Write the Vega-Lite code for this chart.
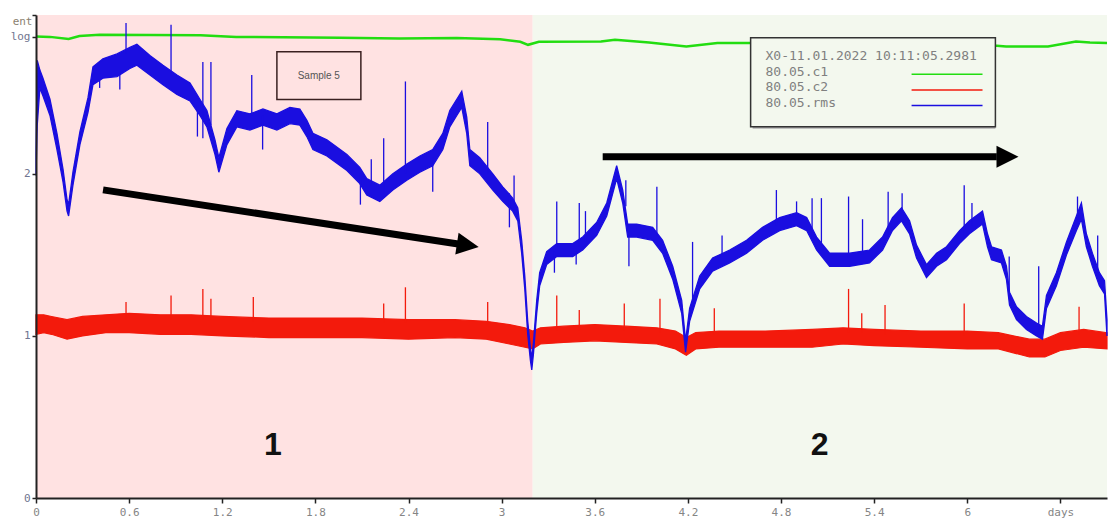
{
  "$schema": "https://vega.github.io/schema/vega-lite/v6.json",
  "width": 1071,
  "height": 483,
  "autosize": {"type": "none"},
  "padding": {"left": 36, "top": 15, "right": 2, "bottom": 30},
  "background": "#ffffff",
  "view": {"stroke": null},
  "datasets": {
    "phases": [
      {"phase": "1", "start": 0, "end": 3.2},
      {"phase": "2", "start": 3.2, "end": 6.9}
    ],
    "c1": [
      {"t": 0.0, "y": 2.847}, {"t": 0.09, "y": 2.845}, {"t": 0.21, "y": 2.832}, {"t": 0.28, "y": 2.85},
      {"t": 0.41, "y": 2.858}, {"t": 1.06, "y": 2.855}, {"t": 1.29, "y": 2.845}, {"t": 1.96, "y": 2.84},
      {"t": 2.34, "y": 2.835}, {"t": 2.71, "y": 2.838}, {"t": 2.99, "y": 2.83}, {"t": 3.12, "y": 2.815},
      {"t": 3.17, "y": 2.796}, {"t": 3.24, "y": 2.815}, {"t": 3.64, "y": 2.817}, {"t": 3.73, "y": 2.827},
      {"t": 3.95, "y": 2.81}, {"t": 4.19, "y": 2.786}, {"t": 4.39, "y": 2.807}, {"t": 4.59, "y": 2.807},
      {"t": 4.92, "y": 2.81}, {"t": 5.5, "y": 2.8}, {"t": 6.19, "y": 2.79}, {"t": 6.25, "y": 2.786},
      {"t": 6.52, "y": 2.786}, {"t": 6.7, "y": 2.817}, {"t": 6.79, "y": 2.81}, {"t": 6.9, "y": 2.807}
    ],
    "c2": [
      {"t": 0.0, "lo": 1.01, "hi": 1.13}, {"t": 0.05, "lo": 1.02, "hi": 1.13}, {"t": 0.1, "lo": 1.01, "hi": 1.12},
      {"t": 0.2, "lo": 0.98, "hi": 1.1}, {"t": 0.3, "lo": 1.0, "hi": 1.12}, {"t": 0.45, "lo": 1.02, "hi": 1.13},
      {"t": 0.6, "lo": 1.02, "hi": 1.14}, {"t": 0.8, "lo": 1.01, "hi": 1.13}, {"t": 1.0, "lo": 1.01, "hi": 1.13},
      {"t": 1.2, "lo": 1.0, "hi": 1.12}, {"t": 1.5, "lo": 0.99, "hi": 1.11}, {"t": 1.8, "lo": 0.99, "hi": 1.11},
      {"t": 2.1, "lo": 0.99, "hi": 1.11}, {"t": 2.4, "lo": 0.98, "hi": 1.1}, {"t": 2.7, "lo": 0.99, "hi": 1.1},
      {"t": 2.9, "lo": 0.98, "hi": 1.09}, {"t": 3.05, "lo": 0.95, "hi": 1.07}, {"t": 3.15, "lo": 0.93, "hi": 1.05},
      {"t": 3.2, "lo": 0.92, "hi": 1.03}, {"t": 3.25, "lo": 0.95, "hi": 1.05}, {"t": 3.4, "lo": 0.96, "hi": 1.06},
      {"t": 3.6, "lo": 0.97, "hi": 1.07}, {"t": 3.8, "lo": 0.96, "hi": 1.06}, {"t": 4.0, "lo": 0.95, "hi": 1.05},
      {"t": 4.12, "lo": 0.92, "hi": 1.03}, {"t": 4.19, "lo": 0.88, "hi": 0.99}, {"t": 4.25, "lo": 0.92, "hi": 1.02},
      {"t": 4.4, "lo": 0.93, "hi": 1.03}, {"t": 4.7, "lo": 0.93, "hi": 1.03}, {"t": 5.0, "lo": 0.93, "hi": 1.04},
      {"t": 5.2, "lo": 0.95, "hi": 1.05}, {"t": 5.4, "lo": 0.94, "hi": 1.04}, {"t": 5.7, "lo": 0.93, "hi": 1.03},
      {"t": 6.0, "lo": 0.92, "hi": 1.03}, {"t": 6.2, "lo": 0.92, "hi": 1.02}, {"t": 6.4, "lo": 0.87, "hi": 0.98},
      {"t": 6.5, "lo": 0.87, "hi": 0.98}, {"t": 6.6, "lo": 0.91, "hi": 1.02}, {"t": 6.75, "lo": 0.93, "hi": 1.04},
      {"t": 6.9, "lo": 0.92, "hi": 1.02}
    ],
    "c2_spikes": [
      {"t": 0.58, "y1": 1.1, "y2": 1.21}, {"t": 0.87, "y1": 1.1, "y2": 1.25}, {"t": 1.075, "y1": 1.1, "y2": 1.29},
      {"t": 1.127, "y1": 1.1, "y2": 1.23}, {"t": 1.4, "y1": 1.09, "y2": 1.24}, {"t": 2.24, "y1": 1.08, "y2": 1.2},
      {"t": 2.38, "y1": 1.08, "y2": 1.3}, {"t": 2.91, "y1": 1.07, "y2": 1.21}, {"t": 3.355, "y1": 1.03, "y2": 1.25},
      {"t": 3.5, "y1": 1.03, "y2": 1.16}, {"t": 3.79, "y1": 1.03, "y2": 1.2}, {"t": 4.02, "y1": 1.02, "y2": 1.23},
      {"t": 4.37, "y1": 1.01, "y2": 1.17}, {"t": 5.235, "y1": 1.02, "y2": 1.29}, {"t": 5.32, "y1": 1.02, "y2": 1.14},
      {"t": 5.47, "y1": 1.01, "y2": 1.19}, {"t": 5.98, "y1": 1.0, "y2": 1.2}, {"t": 6.72, "y1": 1.01, "y2": 1.18}
    ],
    "rms": [
      {"t": 0.0, "lo": 1.99, "hi": 2.12}, {"t": 0.008, "lo": 2.3, "hi": 2.7}, {"t": 0.025, "lo": 2.53, "hi": 2.64},
      {"t": 0.045, "lo": 2.48, "hi": 2.59}, {"t": 0.09, "lo": 2.36, "hi": 2.46}, {"t": 0.135, "lo": 2.15, "hi": 2.25},
      {"t": 0.174, "lo": 1.95, "hi": 2.03}, {"t": 0.2, "lo": 1.77, "hi": 1.84}, {"t": 0.21, "lo": 1.74, "hi": 1.81},
      {"t": 0.238, "lo": 1.93, "hi": 2.01}, {"t": 0.283, "lo": 2.18, "hi": 2.26}, {"t": 0.335, "lo": 2.38, "hi": 2.47},
      {"t": 0.367, "lo": 2.55, "hi": 2.66}, {"t": 0.431, "lo": 2.59, "hi": 2.71}, {"t": 0.522, "lo": 2.6, "hi": 2.74},
      {"t": 0.605, "lo": 2.65, "hi": 2.78}, {"t": 0.65, "lo": 2.67, "hi": 2.8}, {"t": 0.734, "lo": 2.61, "hi": 2.73},
      {"t": 0.818, "lo": 2.55, "hi": 2.67}, {"t": 0.908, "lo": 2.49, "hi": 2.61}, {"t": 0.992, "lo": 2.45, "hi": 2.56},
      {"t": 1.056, "lo": 2.36, "hi": 2.46}, {"t": 1.101, "lo": 2.29, "hi": 2.39}, {"t": 1.153, "lo": 2.12, "hi": 2.21},
      {"t": 1.178, "lo": 2.01, "hi": 2.1}, {"t": 1.23, "lo": 2.18, "hi": 2.28}, {"t": 1.294, "lo": 2.29, "hi": 2.39},
      {"t": 1.378, "lo": 2.27, "hi": 2.37}, {"t": 1.462, "lo": 2.3, "hi": 2.4}, {"t": 1.552, "lo": 2.27, "hi": 2.37},
      {"t": 1.636, "lo": 2.31, "hi": 2.41}, {"t": 1.7, "lo": 2.3, "hi": 2.4}, {"t": 1.745, "lo": 2.23, "hi": 2.33},
      {"t": 1.784, "lo": 2.15, "hi": 2.25}, {"t": 1.874, "lo": 2.11, "hi": 2.21}, {"t": 2.003, "lo": 2.02, "hi": 2.12},
      {"t": 2.086, "lo": 1.94, "hi": 2.04}, {"t": 2.131, "lo": 1.87, "hi": 1.97}, {"t": 2.215, "lo": 1.83, "hi": 1.93},
      {"t": 2.299, "lo": 1.9, "hi": 2.0}, {"t": 2.389, "lo": 1.96, "hi": 2.06}, {"t": 2.473, "lo": 2.01, "hi": 2.11},
      {"t": 2.556, "lo": 2.05, "hi": 2.15}, {"t": 2.621, "lo": 2.15, "hi": 2.25}, {"t": 2.666, "lo": 2.29, "hi": 2.39},
      {"t": 2.711, "lo": 2.36, "hi": 2.46}, {"t": 2.743, "lo": 2.41, "hi": 2.51}, {"t": 2.775, "lo": 2.25, "hi": 2.35},
      {"t": 2.795, "lo": 2.05, "hi": 2.15}, {"t": 2.859, "lo": 2.0, "hi": 2.1}, {"t": 2.943, "lo": 1.9, "hi": 2.0},
      {"t": 3.007, "lo": 1.83, "hi": 1.92}, {"t": 3.071, "lo": 1.77, "hi": 1.85}, {"t": 3.104, "lo": 1.71, "hi": 1.79},
      {"t": 3.129, "lo": 1.51, "hi": 1.59}, {"t": 3.149, "lo": 1.29, "hi": 1.37}, {"t": 3.168, "lo": 1.01, "hi": 1.09},
      {"t": 3.185, "lo": 0.85, "hi": 0.93}, {"t": 3.194, "lo": 0.79, "hi": 0.86}, {"t": 3.205, "lo": 0.89, "hi": 0.96},
      {"t": 3.213, "lo": 0.99, "hi": 1.06}, {"t": 3.226, "lo": 1.14, "hi": 1.22}, {"t": 3.245, "lo": 1.31, "hi": 1.39},
      {"t": 3.29, "lo": 1.44, "hi": 1.52}, {"t": 3.355, "lo": 1.49, "hi": 1.57}, {"t": 3.458, "lo": 1.49, "hi": 1.57},
      {"t": 3.522, "lo": 1.53, "hi": 1.61}, {"t": 3.612, "lo": 1.62, "hi": 1.7}, {"t": 3.677, "lo": 1.74, "hi": 1.82},
      {"t": 3.741, "lo": 1.97, "hi": 2.05}, {"t": 3.78, "lo": 1.82, "hi": 1.9}, {"t": 3.812, "lo": 1.61, "hi": 1.69},
      {"t": 3.87, "lo": 1.61, "hi": 1.69}, {"t": 3.973, "lo": 1.59, "hi": 1.67}, {"t": 4.037, "lo": 1.51, "hi": 1.59},
      {"t": 4.102, "lo": 1.35, "hi": 1.43}, {"t": 4.16, "lo": 1.14, "hi": 1.22}, {"t": 4.185, "lo": 0.9, "hi": 0.97},
      {"t": 4.211, "lo": 1.09, "hi": 1.17}, {"t": 4.276, "lo": 1.29, "hi": 1.37}, {"t": 4.359, "lo": 1.4, "hi": 1.48},
      {"t": 4.469, "lo": 1.45, "hi": 1.53}, {"t": 4.578, "lo": 1.51, "hi": 1.59}, {"t": 4.681, "lo": 1.59, "hi": 1.67},
      {"t": 4.791, "lo": 1.65, "hi": 1.73}, {"t": 4.9, "lo": 1.68, "hi": 1.76}, {"t": 4.965, "lo": 1.65, "hi": 1.73},
      {"t": 5.029, "lo": 1.53, "hi": 1.61}, {"t": 5.113, "lo": 1.43, "hi": 1.51}, {"t": 5.242, "lo": 1.43, "hi": 1.51},
      {"t": 5.37, "lo": 1.45, "hi": 1.53}, {"t": 5.454, "lo": 1.53, "hi": 1.61}, {"t": 5.518, "lo": 1.65, "hi": 1.73},
      {"t": 5.576, "lo": 1.71, "hi": 1.79}, {"t": 5.628, "lo": 1.63, "hi": 1.71}, {"t": 5.673, "lo": 1.48, "hi": 1.56},
      {"t": 5.737, "lo": 1.36, "hi": 1.44}, {"t": 5.802, "lo": 1.43, "hi": 1.51}, {"t": 5.866, "lo": 1.47, "hi": 1.55},
      {"t": 5.95, "lo": 1.57, "hi": 1.65}, {"t": 6.014, "lo": 1.63, "hi": 1.71}, {"t": 6.098, "lo": 1.69, "hi": 1.77},
      {"t": 6.13, "lo": 1.55, "hi": 1.63}, {"t": 6.156, "lo": 1.47, "hi": 1.55}, {"t": 6.22, "lo": 1.45, "hi": 1.53},
      {"t": 6.252, "lo": 1.35, "hi": 1.43}, {"t": 6.272, "lo": 1.19, "hi": 1.27}, {"t": 6.317, "lo": 1.1, "hi": 1.18},
      {"t": 6.381, "lo": 1.04, "hi": 1.12}, {"t": 6.446, "lo": 1.0, "hi": 1.08}, {"t": 6.484, "lo": 0.98, "hi": 1.06},
      {"t": 6.51, "lo": 1.17, "hi": 1.25}, {"t": 6.574, "lo": 1.31, "hi": 1.39}, {"t": 6.639, "lo": 1.5, "hi": 1.58},
      {"t": 6.703, "lo": 1.65, "hi": 1.74}, {"t": 6.735, "lo": 1.72, "hi": 1.82}, {"t": 6.767, "lo": 1.55, "hi": 1.63},
      {"t": 6.806, "lo": 1.43, "hi": 1.51}, {"t": 6.851, "lo": 1.31, "hi": 1.39}, {"t": 6.884, "lo": 1.26, "hi": 1.34},
      {"t": 6.9, "lo": 1.0, "hi": 1.1}
    ],
    "rms_spikes": [
      {"t": 0.41, "y1": 2.53, "y2": 2.62}, {"t": 0.54, "y1": 2.52, "y2": 2.62}, {"t": 0.58, "y1": 2.74, "y2": 2.93},
      {"t": 0.87, "y1": 2.6, "y2": 2.92}, {"t": 1.04, "y1": 2.23, "y2": 2.42}, {"t": 1.075, "y1": 2.22, "y2": 2.69},
      {"t": 1.127, "y1": 2.3, "y2": 2.69}, {"t": 1.39, "y1": 2.36, "y2": 2.61}, {"t": 1.46, "y1": 2.15, "y2": 2.36},
      {"t": 2.09, "y1": 1.81, "y2": 2.0}, {"t": 2.16, "y1": 1.93, "y2": 2.09}, {"t": 2.24, "y1": 1.88, "y2": 2.22},
      {"t": 2.38, "y1": 2.0, "y2": 2.57}, {"t": 2.556, "y1": 1.89, "y2": 2.1}, {"t": 2.91, "y1": 2.0, "y2": 2.32},
      {"t": 3.05, "y1": 1.67, "y2": 1.88}, {"t": 3.08, "y1": 1.82, "y2": 1.99}, {"t": 3.34, "y1": 1.39, "y2": 1.52},
      {"t": 3.355, "y1": 1.55, "y2": 1.83}, {"t": 3.48, "y1": 1.44, "y2": 1.53}, {"t": 3.5, "y1": 1.55, "y2": 1.82},
      {"t": 3.54, "y1": 1.58, "y2": 1.77}, {"t": 3.8, "y1": 1.8, "y2": 1.96}, {"t": 3.82, "y1": 1.43, "y2": 1.62},
      {"t": 4.0, "y1": 1.62, "y2": 1.92}, {"t": 4.23, "y1": 1.2, "y2": 1.58}, {"t": 4.42, "y1": 1.5, "y2": 1.62},
      {"t": 4.77, "y1": 1.68, "y2": 1.9}, {"t": 4.9, "y1": 1.72, "y2": 1.83}, {"t": 5.0, "y1": 1.62, "y2": 1.85},
      {"t": 5.06, "y1": 1.56, "y2": 1.85}, {"t": 5.235, "y1": 1.48, "y2": 1.86}, {"t": 5.325, "y1": 1.5, "y2": 1.72},
      {"t": 5.49, "y1": 1.62, "y2": 1.89}, {"t": 5.58, "y1": 1.77, "y2": 1.88}, {"t": 5.98, "y1": 1.62, "y2": 1.93},
      {"t": 6.03, "y1": 1.68, "y2": 1.82}, {"t": 6.27, "y1": 1.25, "y2": 1.49}, {"t": 6.46, "y1": 1.04, "y2": 1.43},
      {"t": 6.71, "y1": 1.72, "y2": 1.86}, {"t": 6.84, "y1": 1.38, "y2": 1.62}
    ],
    "arrows": [
      {"arrow": "a", "t": 0.432, "y": 1.901}, {"arrow": "a", "t": 2.72, "y": 1.567},
      {"arrow": "b", "t": 3.651, "y": 2.105}, {"arrow": "b", "t": 6.19, "y": 2.105}
    ],
    "heads": [
      {"arrow": "a", "t": 2.782, "y": 1.559},
      {"arrow": "b", "t": 6.259, "y": 2.105}
    ],
    "phase_labels": [
      {"label": "1", "t": 1.526, "y": 0.327},
      {"label": "2", "t": 5.048, "y": 0.327}
    ],
    "sample_box": [
      {"label": "Sample 5", "t0": 1.552, "t1": 2.093, "y0": 2.459, "y1": 2.753, "tc": 1.822, "yc": 2.606}
    ],
    "legend_box": [
      {"t0": 4.604, "t1": 6.181, "y0": 2.29, "y1": 2.84}
    ],
    "legend_text": [
      {"label": "X0-11.01.2022 10:11:05.2981", "t": 4.7, "y": 2.728},
      {"label": "80.05.c1", "t": 4.7, "y": 2.628},
      {"label": "80.05.c2", "t": 4.7, "y": 2.533},
      {"label": "80.05.rms", "t": 4.7, "y": 2.44}
    ],
    "legend_lines": [
      {"series": "80.05.c1", "t0": 5.641, "t1": 6.098, "y": 2.615},
      {"series": "80.05.c2", "t0": 5.641, "t1": 6.098, "y": 2.517},
      {"series": "80.05.rms", "t0": 5.641, "t1": 6.098, "y": 2.422}
    ]
  },
  "layer": [
    {
      "data": {"name": "phases"},
      "mark": {"type": "rect"},
      "encoding": {
        "x": {
          "field": "start", "type": "quantitative",
          "scale": {"domain": [0, 6.9], "nice": false, "zero": false},
          "axis": {
            "title": null,
            "zindex": 2,
            "values": [0, 0.6, 1.2, 1.8, 2.4, 3, 3.6, 4.2, 4.8, 5.4, 6, 6.6],
            "labelExpr": "datum.value > 6.5 ? 'days' : format(datum.value, '~g')",
            "labelFlush": false,
            "labelFont": "DejaVu Sans Mono", "labelFontSize": 11, "labelColor": "#858585",
            "labelPadding": 3,
            "domainColor": "#222222", "domainWidth": 2,
            "tickColor": "#222222", "tickSize": 5, "tickWidth": 1.5,
            "grid": false
          }
        },
        "x2": {"field": "end"},
        "fill": {
          "field": "phase", "type": "nominal",
          "scale": {"domain": ["1", "2"], "range": ["#ffe2e2", "#f3f8ee"]},
          "legend": null
        }
      }
    },
    {
      "data": {"name": "c1"},
      "mark": {"type": "line", "color": "#22dd11", "strokeWidth": 2.5},
      "encoding": {
        "x": {"field": "t", "type": "quantitative"},
        "y": {
          "field": "y", "type": "quantitative",
          "scale": {"domain": [0, 2.98], "nice": false, "zero": true},
          "axis": {
            "title": "ent",
            "zindex": 2,
            "titleAngle": 0, "titleAlign": "right", "titleBaseline": "middle",
            "titleX": -4, "titleY": 6,
            "titleFont": "DejaVu Sans Mono", "titleFontSize": 11, "titleFontWeight": "normal", "titleColor": "#8a7f70",
            "values": [0, 1, 2, 2.846, 2.98],
            "labelExpr": "datum.value > 2.9 ? '' : datum.value > 2.5 ? 'log' : format(datum.value, '~g')",
            "labelFlush": false,
            "labelFont": "DejaVu Sans Mono", "labelFontSize": 11, "labelColor": "#707590",
            "labelPadding": 2,
            "domainColor": "#222222", "domainWidth": 2,
            "tickColor": "#222222", "tickSize": 4, "tickWidth": 1.5,
            "grid": false
          }
        }
      }
    },
    {
      "data": {"name": "sample_box"},
      "mark": {"type": "rect", "fill": "#ffe2e2", "stroke": "#3a2020", "strokeWidth": 1.5},
      "encoding": {
        "x": {"field": "t0", "type": "quantitative"},
        "x2": {"field": "t1"},
        "y": {"field": "y0", "type": "quantitative"},
        "y2": {"field": "y1"}
      }
    },
    {
      "data": {"name": "sample_box"},
      "mark": {"type": "text", "font": "Liberation Sans", "fontSize": 10, "color": "#555555", "align": "center", "baseline": "middle"},
      "encoding": {
        "x": {"field": "tc", "type": "quantitative"},
        "y": {"field": "yc", "type": "quantitative"},
        "text": {"field": "label"}
      }
    },
    {
      "data": {"name": "c2"},
      "mark": {"type": "area", "color": "#f31a0c", "stroke": "#f31a0c", "strokeWidth": 1.2},
      "encoding": {
        "x": {"field": "t", "type": "quantitative"},
        "y": {"field": "lo", "type": "quantitative"},
        "y2": {"field": "hi"}
      }
    },
    {
      "data": {"name": "c2_spikes"},
      "mark": {"type": "rule", "color": "#f31a0c", "strokeWidth": 1.3},
      "encoding": {
        "x": {"field": "t", "type": "quantitative"},
        "y": {"field": "y1", "type": "quantitative"},
        "y2": {"field": "y2"}
      }
    },
    {
      "data": {"name": "rms"},
      "mark": {"type": "area", "color": "#1a0ee0", "stroke": "#1a0ee0", "strokeWidth": 1.3},
      "encoding": {
        "x": {"field": "t", "type": "quantitative"},
        "y": {"field": "lo", "type": "quantitative"},
        "y2": {"field": "hi"}
      }
    },
    {
      "data": {"name": "rms_spikes"},
      "mark": {"type": "rule", "color": "#1a0ee0", "strokeWidth": 1.3},
      "encoding": {
        "x": {"field": "t", "type": "quantitative"},
        "y": {"field": "y1", "type": "quantitative"},
        "y2": {"field": "y2"}
      }
    },
    {
      "data": {"name": "arrows"},
      "mark": {"type": "line", "color": "#000000", "strokeWidth": 7, "strokeCap": "butt"},
      "encoding": {
        "x": {"field": "t", "type": "quantitative"},
        "y": {"field": "y", "type": "quantitative"},
        "detail": {"field": "arrow"}
      }
    },
    {
      "data": {"name": "heads"},
      "transform": [{"filter": "datum.arrow == 'a'"}],
      "mark": {"type": "point", "shape": "M-1,-1L1,0L-1,1Z", "filled": true, "color": "#000000", "opacity": 1, "size": 484, "angle": 8.6},
      "encoding": {
        "x": {"field": "t", "type": "quantitative"},
        "y": {"field": "y", "type": "quantitative"}
      }
    },
    {
      "data": {"name": "heads"},
      "transform": [{"filter": "datum.arrow == 'b'"}],
      "mark": {"type": "point", "shape": "M-1,-1L1,0L-1,1Z", "filled": true, "color": "#000000", "opacity": 1, "size": 484, "angle": 0},
      "encoding": {
        "x": {"field": "t", "type": "quantitative"},
        "y": {"field": "y", "type": "quantitative"}
      }
    },
    {
      "data": {"name": "phase_labels"},
      "mark": {"type": "text", "font": "Liberation Sans", "fontSize": 32, "fontWeight": "bold", "color": "#111111", "align": "center", "baseline": "middle"},
      "encoding": {
        "x": {"field": "t", "type": "quantitative"},
        "y": {"field": "y", "type": "quantitative"},
        "text": {"field": "label"}
      }
    },
    {
      "data": {"name": "legend_box"},
      "mark": {"type": "rect", "fill": "#b0b0b0", "xOffset": 2, "yOffset": 2},
      "encoding": {
        "x": {"field": "t0", "type": "quantitative"},
        "x2": {"field": "t1"},
        "y": {"field": "y0", "type": "quantitative"},
        "y2": {"field": "y1"}
      }
    },
    {
      "data": {"name": "legend_box"},
      "mark": {"type": "rect", "fill": "#f3f8ee", "stroke": "#333333", "strokeWidth": 1.5},
      "encoding": {
        "x": {"field": "t0", "type": "quantitative"},
        "x2": {"field": "t1"},
        "y": {"field": "y0", "type": "quantitative"},
        "y2": {"field": "y1"}
      }
    },
    {
      "data": {"name": "legend_text"},
      "mark": {"type": "text", "font": "DejaVu Sans Mono", "fontSize": 13, "color": "#808080", "align": "left", "baseline": "middle"},
      "encoding": {
        "x": {"field": "t", "type": "quantitative"},
        "y": {"field": "y", "type": "quantitative"},
        "text": {"field": "label"}
      }
    },
    {
      "data": {"name": "legend_lines"},
      "mark": {"type": "rule", "strokeWidth": 1.5},
      "encoding": {
        "x": {"field": "t0", "type": "quantitative"},
        "x2": {"field": "t1"},
        "y": {"field": "y", "type": "quantitative"},
        "color": {
          "field": "series", "type": "nominal",
          "scale": {"domain": ["80.05.c1", "80.05.c2", "80.05.rms"], "range": ["#22dd11", "#f31a0c", "#1a0ee0"]},
          "legend": null
        }
      }
    }
  ]
}
